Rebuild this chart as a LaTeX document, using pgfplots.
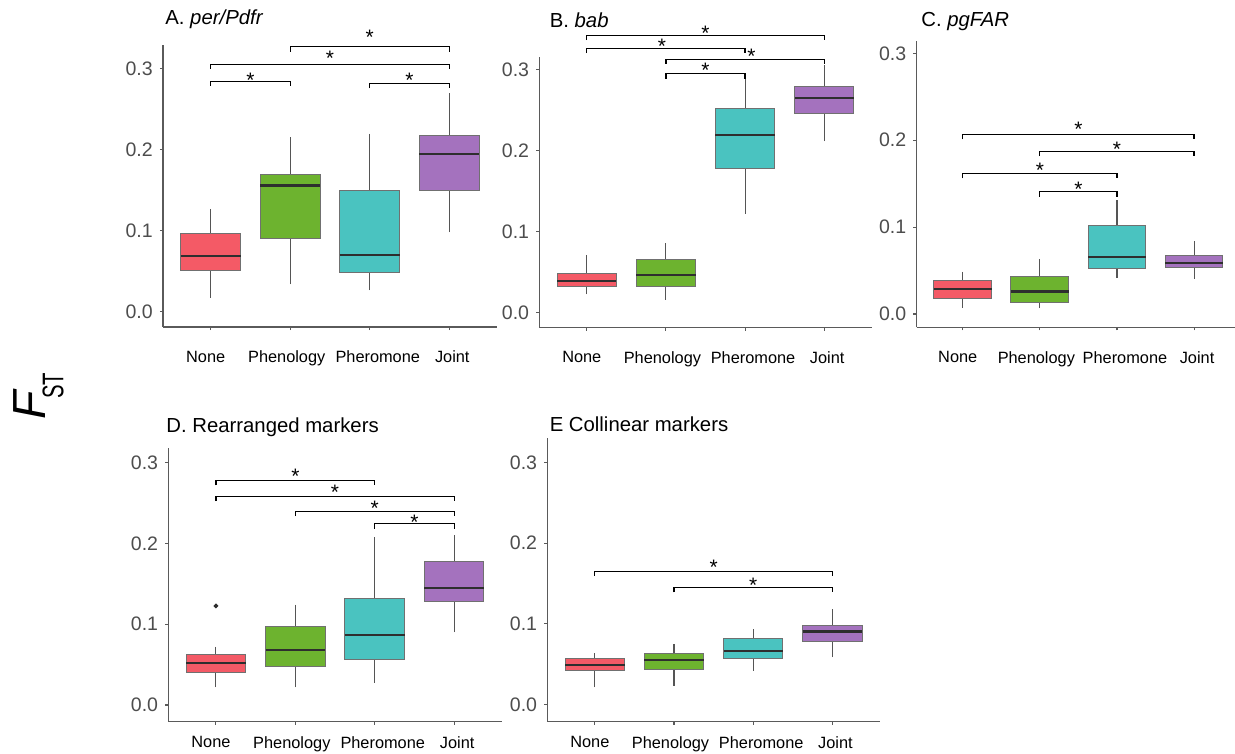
\documentclass[border=0pt]{standalone}
\usepackage{fontspec}
\setmainfont{Liberation Sans}
\usepackage{graphicx}
\usepackage{pgfplots}
\pgfplotsset{compat=1.18}
\usepgfplotslibrary{statistics}
\usepackage{pgfplotstable}

\definecolor{cNone}{HTML}{F45A66}
\definecolor{cPhen}{HTML}{6DB32F}
\definecolor{cPher}{HTML}{4AC3C0}
\definecolor{cJoint}{HTML}{A472BE}
\definecolor{boxedge}{HTML}{707070}
\definecolor{medline}{HTML}{2E2E2E}
\definecolor{whisk}{HTML}{555555}
\definecolor{axisgray}{HTML}{5A5A5A}
\definecolor{ticktext}{HTML}{4D4D4D}

% five-number summaries per panel: rows are None, Phenology, Pheromone, Joint
\pgfplotstableread{
lw     lq     med    uq     uw
0.0173 0.0507 0.0688 0.0968 0.1270
0.0338 0.0906 0.1560 0.1690 0.2155
0.0264 0.0486 0.0705 0.1496 0.2200
0.0980 0.1500 0.1950 0.2180 0.2700
}\tblA
\pgfplotstableread{
lw     lq     med    uq     uw
0.0223 0.0314 0.0390 0.0475 0.0710
0.0157 0.0322 0.0466 0.0648 0.0858
0.1222 0.1783 0.2196 0.2526 0.2910
0.2117 0.2456 0.2654 0.2790 0.3060
}\tblB
\pgfplotstableread{
lw     lq     med    uq     uw
0.0073 0.0180 0.0288 0.0380 0.0487
0.0065 0.0127 0.0260 0.0430 0.0633
0.0414 0.0529 0.0656 0.1013 0.1312
0.0407 0.0533 0.0590 0.0675 0.0836
}\tblC
\pgfplotstableread{
lw     lq     med    uq     uw
0.0219 0.0400 0.0525 0.0620 0.0723
0.0219 0.0475 0.0682 0.0971 0.1244
0.0277 0.0566 0.0868 0.1314 0.2079
0.0901 0.1280 0.1446 0.1773 0.2107
}\tblD
\pgfplotstableread{
lw     lq     med    uq     uw
0.0211 0.0414 0.0492 0.0563 0.0633
0.0228 0.0434 0.0546 0.0633 0.0749
0.0418 0.0571 0.0666 0.0815 0.0931
0.0583 0.0782 0.0902 0.0972 0.1179
}\tblE

\pgfplotsset{
  fstpanel/.style={
    scale only axis, anchor=south west,
    xmin=-0.6, xmax=3.6,
    axis x line*=bottom, axis y line*=left,
    axis line style={draw=axisgray, line width=0.65bp},
    tick align=outside, major tick length=1.6bp,
    tick style={draw=axisgray, line width=0.55bp},
    xtick={0,1,2,3},
    xticklabels={{None\hspace*{5bp}},{Phenology\hspace*{3.5bp}},{\hspace*{8bp}Pheromone},{\hspace*{3bp}Joint}},
    ytick={0,0.1,0.2,0.3},
    /pgf/number format/fixed, /pgf/number format/fixed zerofill,
    /pgf/number format/precision=1, /pgf/number format/assume math mode=true,
    yticklabel style={font=\fontsize{9.8}{10}\selectfont, text=ticktext},
    xticklabel style={font=\fontsize{8.2}{9}\selectfont, text=black},
    clip=false,
    boxplot/draw direction=y,
  },
  fstbox/.style={
    draw=boxedge, line width=0.5bp,
    boxplot/every median/.style={draw=medline, line width=1.1bp},
    boxplot/every whisker/.style={draw=whisk, line width=0.55bp},
  },
  bracketline/.style={black, line width=0.6bp, sharp plot, mark=none},
}
\tikzset{
  starnode/.style={font=\fontsize{10.5}{10.5}\selectfont, inner sep=0pt, anchor=base, yshift=-6bp},
  paneltitle/.style={font=\fontsize{10.2}{11}\selectfont, inner sep=0pt, anchor=base west},
}

% one box from a table row: [extra options]{table}{row}{fill colour}{outliers}
\newcommand{\fstbox}[5][]{%
  \pgfplotstablegetelem{#3}{lw}\of#2\let\vlw\pgfplotsretval
  \pgfplotstablegetelem{#3}{lq}\of#2\let\vlq\pgfplotsretval
  \pgfplotstablegetelem{#3}{med}\of#2\let\vmed\pgfplotsretval
  \pgfplotstablegetelem{#3}{uq}\of#2\let\vuq\pgfplotsretval
  \pgfplotstablegetelem{#3}{uw}\of#2\let\vuw\pgfplotsretval
  \edef\doplot{\noexpand\addplot[boxplot prepared={draw position=#3,
      lower whisker=\vlw, lower quartile=\vlq, median=\vmed,
      upper quartile=\vuq, upper whisker=\vuw,
      box extend=0.75, whisker extend=0},
    fstbox, fill=#4, \unexpanded{#1}] coordinates {#5};}%
  \doplot}

% significance bracket: {x1}{x2}{end}{top}{star x}{star y}
\newcommand{\sig}[6]{%
  \addplot[bracketline] coordinates {(#1,#3) (#1,#4) (#2,#4) (#2,#3)};
  \node[starnode] at (axis cs:#5,#6) {*};}

\newcommand{\allboxes}[1]{%
  \fstbox{#1}{0}{cNone}{}
  \fstbox{#1}{1}{cPhen}{}
  \fstbox{#1}{2}{cPher}{}
  \fstbox{#1}{3}{cJoint}{}}

\begin{document}
\begin{tikzpicture}
\useasboundingbox (0,0) rectangle (617.5bp,377bp);

% A. per/Pdfr
\begin{axis}[fstpanel, at={(81.5bp,213.5bp)}, width=167bp, height=141bp,
  ymin=-0.0189, ymax=0.3296, xticklabel style={yshift=-6.9bp}]
  \allboxes{\tblA}
  \sig{1}{3}{0.3210}{0.3276}{2}{0.345}
  \sig{0}{3}{0.3000}{0.3057}{1.5}{0.319}
  \sig{0}{1}{0.2790}{0.2847}{0.5}{0.2925}
  \sig{2}{3}{0.2760}{0.2820}{2.5}{0.2913}
\end{axis}

% B. bab
\begin{axis}[fstpanel, at={(269.65bp,213.15bp)}, width=166.2bp, height=135.2bp,
  ymin=-0.019, ymax=0.3156, xticklabel style={yshift=-6.9bp}]
  \allboxes{\tblB}
  \sig{0}{3}{0.3368}{0.3425}{1.5}{0.3516}
  \sig{0}{2}{0.3207}{0.3265}{0.95}{0.335}
  \sig{1}{3}{0.3075}{0.3130}{2.08}{0.3227}
  \sig{1}{2}{0.2893}{0.2959}{1.5}{0.305}
\end{axis}

% C. pgFAR
\begin{axis}[fstpanel, at={(458.25bp,213.35bp)}, width=161.9bp, height=143.3bp,
  ymin=-0.0153, ymax=0.3145, xticklabel style={yshift=-6.9bp}]
  \allboxes{\tblC}
  \sig{0}{3}{0.2010}{0.2064}{1.5}{0.2186}
  \sig{1}{3}{0.1818}{0.1872}{2}{0.1956}
  \sig{0}{2}{0.1560}{0.1615}{1}{0.1707}
  \sig{1}{2}{0.1350}{0.1408}{1.5}{0.149}
\end{axis}

% D. Rearranged markers
\begin{axis}[fstpanel, at={(84.15bp,16.15bp)}, width=166.75bp, height=136.7bp,
  ymin=-0.0207, ymax=0.318, xticklabel style={yshift=-2.4bp}]
  \fstbox[mark=*, mark size=0.9bp, mark options={draw=medline, fill=medline}]{\tblD}{0}{cNone}{(0,0.1227)}
  \fstbox{\tblD}{1}{cPhen}{}
  \fstbox{\tblD}{2}{cPher}{}
  \fstbox{\tblD}{3}{cJoint}{}
  \sig{0}{2}{0.2720}{0.2780}{1}{0.289}
  \sig{0}{3}{0.2525}{0.2580}{1.5}{0.270}
  \sig{1}{3}{0.2340}{0.2400}{2}{0.2496}
  \sig{2}{3}{0.2182}{0.2248}{2.5}{0.2326}
\end{axis}

% E. Collinear markers
\begin{axis}[fstpanel, at={(273.65bp,16.15bp)}, width=166.3bp, height=141.7bp,
  ymin=-0.0216, ymax=0.330, xticklabel style={yshift=-2.4bp}]
  \allboxes{\tblE}
  \sig{0}{3}{0.1593}{0.1647}{1.5}{0.1758}
  \sig{1}{3}{0.1390}{0.1452}{2}{0.1535}
\end{axis}

% panel titles
\node[paneltitle] at (82.5bp,364.5bp) {A. \textit{per/Pdfr}};
\node[paneltitle] at (274.7bp,363.3bp) {B. \textit{bab}};
\node[paneltitle] at (460.5bp,363.7bp) {C. \textit{pgFAR}};
\node[paneltitle] at (83bp,160.85bp) {D. Rearranged markers};
\node[paneltitle] at (274.7bp,161.15bp) {E Collinear markers};

% shared y label
\node[rotate=90, anchor=base west, inner sep=0pt] at (22.5bp,167bp)
  {\fontsize{23.3}{24}\selectfont\itshape F\kern-3.8bp\raisebox{-9.15bp}{\fontsize{15}{16}\selectfont\upshape\scalebox{0.68}[1]{ST}}};
\end{tikzpicture}
\end{document}
